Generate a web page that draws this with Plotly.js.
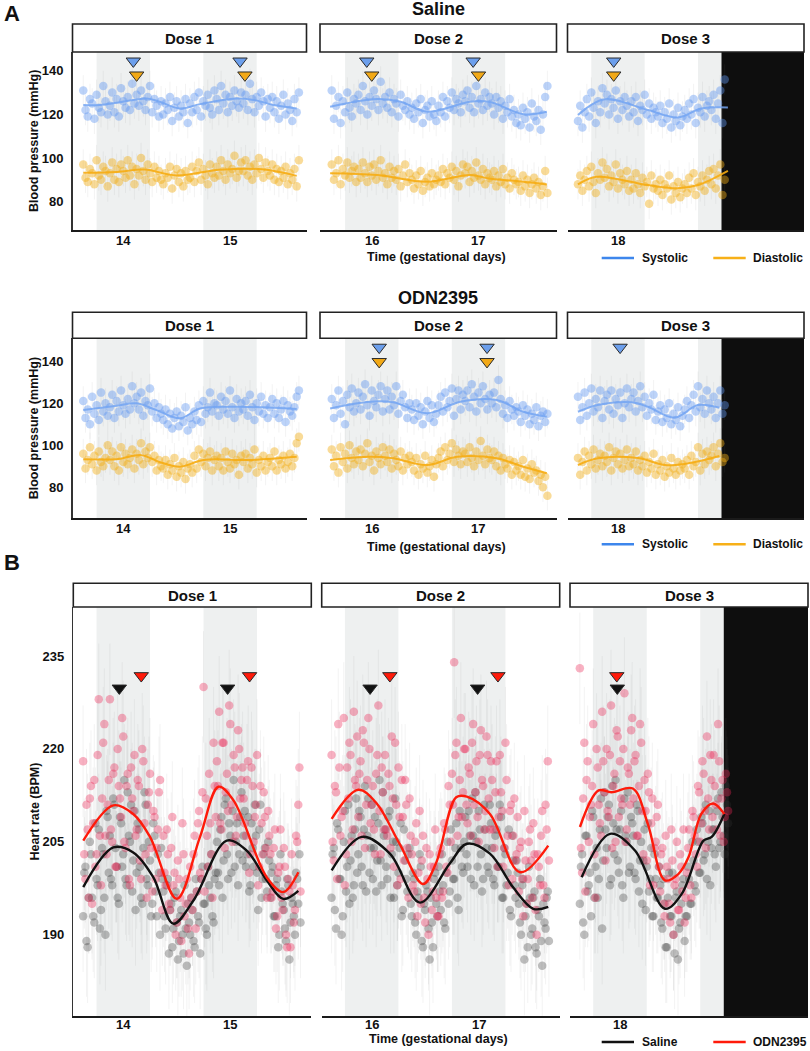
<!DOCTYPE html>
<html><head><meta charset="utf-8">
<script src="https://cdn.plot.ly/plotly-3.0.1.min.js"></script>
<style>html,body{margin:0;padding:0;background:#fff}#chart{width:810px;height:1051px}</style>
</head><body><div id="chart"></div>
<script>
// ---------------- DATA ----------------
// 30-min samples; first sample of each dose window (gestational days)
const facetStart = [13.625, 15.625, 17.625];
const sampleStep = 1 / 48;
const dayTicks = [[14, 15], [16, 17], [18]];
const bpTicks = [80, 100, 120, 140];
const hrTicks = [190, 205, 220, 235];
const darkPeriods = [[[13.75, 14.25], [14.75, 15.25]], [[15.75, 16.25], [16.75, 17.25]], [[17.75, 18.25], [18.75, 19.25]]];
const recordingEnd = 18.97;
const semBP = 7;
const semHR = 9;

// Saline blood pressure (mmHg)
const salSys1 = [131,122,119,127,125,118,129,123,121,133,126,120,124,130,121,127,119,132,126,123,128,122,134,125,129,124,131,126,122,128,133,121,127,124,119,126,120,125,122,128,117,123,126,119,124,121,127,116,125,121,128,122,130,119,126,124,129,123,120,131,127,122,133,125,129,121,128,124,131,126,123,130,125,129,122,134,127,121,128,124,130,126,119,127,123,128,121,126,118,124,129,120,125,122,117,127,121,130];
const salDia1 = [97,91,89,95,93,88,99,92,90,96,94,87,93,98,90,95,89,97,94,91,99,92,96,88,95,92,100,94,90,97,93,89,96,91,94,90,88,93,91,96,86,92,95,89,93,87,94,90,91,96,89,94,98,90,95,92,88,97,93,91,96,92,99,94,90,97,93,95,101,91,94,98,94,99,92,96,90,97,93,100,95,91,98,94,92,97,90,95,89,94,91,96,88,93,90,95,87,99];
const salSys2 = [131,118,124,128,116,126,121,130,123,119,127,125,129,122,133,126,120,128,124,131,127,122,135,125,128,123,130,121,127,125,119,129,124,122,126,120,123,118,125,121,127,116,122,124,119,126,120,117,124,121,128,119,126,123,130,122,127,125,121,129,126,131,123,128,121,133,125,127,122,130,124,128,125,120,128,123,126,118,124,121,127,119,122,116,120,115,123,118,121,114,125,119,117,122,113,120,128,133];
const salDia2 = [97,90,93,99,88,95,92,98,91,94,96,89,95,91,98,93,89,96,92,97,90,94,99,91,93,88,96,91,94,90,95,87,92,97,89,93,90,86,92,88,94,85,89,91,87,93,88,90,92,89,95,88,93,91,96,90,94,87,92,97,93,96,89,94,91,98,92,90,95,88,93,91,90,94,87,92,89,95,88,91,86,93,90,88,89,85,92,87,90,84,88,91,86,89,83,87,94,84];
const salSys3 = [117,124,114,121,127,119,130,123,116,126,121,132,125,129,120,127,123,131,118,126,122,128,124,119,126,121,128,117,124,122,129,120,125,118,123,121,119,124,116,121,118,125,114,120,117,123,115,119,122,118,125,120,127,116,123,121,128,119,124,126,122,129,118,125,131,116,136];
const salDia3 = [88,92,85,90,94,87,96,89,84,93,90,98,91,95,87,92,89,97,86,93,90,88,94,85,90,86,93,88,84,91,87,89,79,92,86,88,85,90,83,88,86,92,81,87,84,89,82,86,88,84,91,86,93,83,89,87,92,85,90,94,88,95,86,92,97,83,90];

// ODN2395 blood pressure (mmHg)
const odnSys1 = [121,113,117,110,123,115,119,112,125,116,120,114,118,124,113,121,116,126,119,115,122,117,128,120,123,117,125,114,121,119,127,116,120,113,118,115,112,117,110,115,108,113,116,109,114,111,118,107,113,110,116,112,119,111,121,115,118,125,116,120,119,114,123,117,121,115,126,118,113,122,116,120,117,121,114,124,118,112,120,116,123,115,119,113,118,122,115,120,113,117,121,111,119,116,114,118,123,126];
const odnDia1 = [96,89,93,99,91,95,88,97,92,90,94,100,93,97,90,95,88,99,92,96,91,94,98,89,96,93,101,91,97,94,99,92,95,88,93,90,89,93,86,91,88,94,85,90,87,92,84,89,91,87,95,89,98,92,96,90,94,97,88,93,95,90,94,88,97,92,89,96,91,93,86,95,92,96,89,94,91,98,87,93,90,95,88,92,94,90,97,88,93,91,95,89,92,96,90,94,101,104];
const odnSys2 = [122,113,119,126,115,121,110,124,118,127,116,120,125,117,123,129,119,114,126,121,118,124,128,116,122,126,117,123,119,128,115,121,124,118,113,120,117,112,120,114,118,110,116,121,113,119,111,115,119,123,116,125,118,121,127,114,122,126,117,124,121,126,118,129,123,116,125,120,128,122,117,124,120,125,118,131,122,115,119,113,121,117,114,118,116,111,119,114,117,110,115,112,118,109,114,116,111,115];
const odnDia2 = [98,90,95,87,99,92,96,89,100,94,91,97,93,98,90,96,101,92,95,88,97,94,91,99,95,92,98,89,96,93,90,97,88,94,91,95,92,88,94,86,91,89,95,87,90,93,85,91,94,97,90,99,93,96,101,92,98,95,91,97,96,92,99,94,90,97,93,102,95,91,98,94,93,97,90,95,88,94,91,89,93,86,92,88,90,86,93,85,89,84,91,87,88,83,86,80,85,76];
const odnSys3 = [123,112,118,125,114,120,127,116,122,118,126,113,121,124,117,126,115,122,119,125,113,120,127,118,122,125,116,121,128,118,123,114,120,117,124,112,116,119,111,117,113,120,110,115,112,118,109,114,117,121,113,119,124,116,128,118,122,115,126,120,117,123,113,120,126,115,119];
const odnDia3 = [94,86,92,97,88,95,91,98,89,93,96,90,95,92,99,88,94,97,91,96,89,93,98,90,94,91,97,88,93,90,95,87,92,89,96,86,91,88,93,85,90,87,94,89,86,92,88,91,89,93,86,95,90,92,99,88,96,91,97,93,95,99,90,96,101,92,94];

// Heart rate (BPM), on the hour/half hour
const hrSal1 = [193,201,188,205,196,192,199,207,194,203,190,209,206,198,211,201,195,208,203,199,213,205,197,210,200,207,196,204,211,198,202,195,206,193,200,204,197,191,199,194,188,196,192,189,194,187,191,195,190,194,188,197,192,199,195,191,201,196,193,199,205,198,209,202,212,199,206,210,201,208,203,213,206,201,209,198,204,211,200,207,196,203,199,205,196,201,193,199,190,197,194,189,198,192,195,190,199,203];
const hrOdn1 = [218,199,207,212,195,215,203,228,198,221,206,211,228,205,217,201,214,209,222,204,216,198,212,219,207,214,199,218,203,211,216,197,209,204,213,200,206,198,203,194,209,200,192,199,189,203,195,191,201,194,206,197,210,199,230,212,201,208,196,214,218,226,207,221,213,210,224,205,217,209,220,215,212,206,218,203,214,209,219,201,208,213,204,210,203,197,207,193,201,196,204,190,199,188,198,194,205,217];
const hrSal2 = [196,204,191,207,199,193,210,201,195,206,198,212,203,209,198,214,206,200,211,204,197,208,202,213,207,199,210,203,196,205,200,208,194,202,197,204,193,199,190,196,201,188,194,197,186,192,199,195,201,194,198,191,205,197,202,199,208,194,204,200,209,201,206,212,198,205,210,203,199,207,201,211,204,198,207,201,209,196,203,200,194,206,198,202,195,190,199,193,188,196,191,197,187,193,189,195,191,197];
const hrOdn2 = [219,202,213,224,206,210,198,217,221,205,226,214,209,218,223,204,215,220,211,207,216,227,203,213,219,206,214,222,201,211,217,199,209,215,204,212,203,197,208,200,195,206,192,199,203,194,201,196,193,204,197,207,200,211,216,234,221,209,225,213,220,208,216,221,211,218,205,223,214,210,219,207,215,204,218,209,213,201,221,206,210,199,212,203,197,205,193,202,199,207,196,203,190,201,206,198,211,218];
const hrSal3 = [195,203,190,206,198,193,209,201,196,207,191,213,204,211,199,208,215,202,207,198,212,205,200,209,206,199,210,202,195,207,201,197,204,193,199,196,198,191,195,188,200,193,190,196,186,192,198,189,193,199,195,202,197,205,200,208,203,199,210,204,207,201,212,205,209,203,211];
const hrOdn3 = [233,200,221,215,205,211,224,196,217,208,226,213,220,209,227,214,205,222,218,211,229,207,216,223,212,219,206,224,210,215,202,213,208,198,205,211,197,204,193,201,195,207,190,199,194,203,197,192,200,207,196,209,203,214,205,218,210,222,207,215,219,211,224,206,215,209,213];
// Heart rate (BPM), quarter past / quarter to
const hrSal1b = [200,189,196,203,193,208,198,191,204,196,210,200,199,212,204,196,209,201,215,198,206,211,202,194,208,201,195,213,199,205,193,208,197,203,190,199,193,198,187,195,191,197,186,193,190,198,185,192,196,189,199,193,187,201,195,190,198,203,192,200,200,207,196,211,203,208,200,215,205,198,209,202,210,203,197,208,201,206,194,211,199,204,197,202,200,193,198,188,203,195,191,199,186,196,193,200,195,192];
const hrOdn1b = [203,211,196,214,208,201,219,206,212,224,203,215,207,216,201,220,212,225,205,214,199,217,210,206,215,202,220,208,196,213,204,210,199,207,215,194,200,207,195,204,198,190,202,196,208,193,199,187,196,203,191,208,200,213,197,206,216,203,221,209,214,208,221,204,216,227,211,219,206,223,212,217,208,215,200,217,205,211,198,214,203,209,196,206,196,204,191,200,207,194,201,188,197,203,192,206,211,197];
const hrSal2b = [203,194,208,199,190,205,197,211,202,196,207,200,210,201,207,197,212,204,199,209,202,215,198,206,201,209,196,205,212,198,204,193,207,199,203,195,200,192,197,203,189,195,198,191,196,188,200,193,197,203,192,200,195,207,199,204,196,210,201,205,203,210,199,206,213,201,207,197,211,204,200,208,199,206,201,211,196,204,198,207,193,202,196,200,192,198,186,195,201,190,196,188,194,199,185,192,196,189];
const hrOdn2b = [205,214,199,217,209,225,203,212,219,207,215,222,216,206,221,211,225,208,214,203,219,210,217,207,207,216,204,212,221,198,209,215,202,211,196,206,198,205,193,210,202,196,204,190,201,197,207,193,203,196,208,201,214,205,211,219,206,215,209,220,211,217,206,224,213,209,219,215,207,222,212,218,207,213,201,219,210,204,215,198,211,206,202,209,204,199,210,195,205,202,208,194,203,198,210,196,207,202];
const hrSal3b = [201,192,206,197,200,210,196,204,199,212,202,207,209,198,214,203,207,200,210,196,206,213,201,208,200,211,197,205,202,194,208,199,193,203,196,201,192,199,188,196,193,200,187,197,191,195,199,193,201,195,205,198,207,200,209,202,211,205,198,207,203,210,204,213,206,214,208];
const hrOdn3b = [204,212,197,218,209,214,203,220,211,206,218,202,210,219,204,216,223,209,212,220,205,217,211,225,218,206,214,221,203,210,216,198,212,204,209,201,203,195,206,199,192,202,198,205,194,201,207,196,204,198,210,206,201,213,208,216,204,212,219,209,214,207,218,212,205,216,210];

// Smoothed (loess) fits: time and value
const salSysFitX = [[13.625,13.78,13.94,14.22,14.34,14.53,14.72,15.03,15.22,15.41,15.625],[15.61,16.05,16.27,16.52,16.92,17.1,17.42,17.64],[17.625,17.875,18.28,18.56,18.78,19.03]];
const salSysFitY = [[124.3,124.3,125.3,127.3,125.8,122.7,124.7,127.2,126.6,124.3,122.7],[123.5,127,125.8,121.2,125.8,125.8,120.1,121.2],[119.7,126.9,122,118.6,122.7,123.2]];
const salDiaFitX = [[13.625,13.94,14.2,14.5,14.9,15.3,15.625],[15.61,16.05,16.52,16.92,17.1,17.42,17.64],[17.625,17.8,18.28,18.56,18.75,19.03]];
const salDiaFitY = [[93.2,93.6,94.7,92,94.6,94.8,91.8],[93,92.2,89.1,92.2,90.6,89.1,87.9],[87.9,91.4,87.6,86.1,87.6,94.1]];
const odnSysFitX = [[13.625,13.94,14.125,14.31,14.53,14.72,15.03,15.625],[15.61,15.985,16.2,16.52,16.83,17.17,17.42,17.64],[17.625,17.81,18.125,18.28,18.53,18.75,18.95]];
const odnSysFitY = [[116.7,118.8,119.9,116.7,112.8,117.5,118.3,117.2],[117.5,120.7,120.4,115.2,120.7,121.5,115.9,113.5],[115.9,119.1,120.4,118.3,113.1,119.1,117.8]];
const odnDiaFitX = [[13.625,13.94,14.17,14.33,14.53,14.75,15.2,15.625],[15.61,15.985,16.2,16.52,16.8,17.17,17.42,17.64],[17.625,17.81,18.19,18.44,18.66,18.95]];
const odnDiaFitY = [[93.4,93.4,95.3,92.2,89.8,93,93,94.5],[93,94.5,93.8,90.6,94.5,93.8,89.8,86.7],[90.6,93.8,93.9,90.6,91.4,94.9]];
const hrSalFitX = [[13.626,13.907,14.093,14.28,14.467,14.654,14.966,15.153,15.34,15.495,15.636],[15.626,15.907,16.17,16.45,16.73,16.89,17.105,17.32,17.51,17.65],[17.642,17.907,18.14,18.42,18.577,18.78,18.857,18.975]];
const hrSalFitY = [[197.7,204.1,203.3,199.3,191.8,195.5,205.2,203.6,198.8,195.8,197.1],[200.4,205.8,203.1,195.2,201.5,204.7,203.1,197.7,194.2,194.5],[199.3,206.3,203.6,194.2,196.6,205.2,205.8,209.5]];
const hrOdnFitX = [[13.626,13.907,14.093,14.25,14.5,14.717,14.89,15.03,15.34,15.495,15.636],[15.626,15.875,16.047,16.26,16.48,16.6,16.79,16.89,17.105,17.386,17.65],[17.626,17.8,17.92,18.12,18.26,18.42,18.545,18.64,18.76,18.87,18.975]];
const hrOdnFitY = [[205.2,210.9,209.5,205.8,195.8,205.8,213.9,211.7,199.3,196.9,200.1],[208.7,213.4,211.2,204.7,198.2,201.5,212.2,212.3,209.5,200.1,204.4],[207.4,213.3,213,213.6,207.9,198.8,199.8,202.5,209.5,211.2,209.5]];

// Event markers (time, gestational days)
const salSysEvents = [[14.094, 15.094], [15.953, 16.95], [17.96]];
const salDiaEvents = [[14.125, 15.14], [16.0, 17.0], [17.96]];
const odnSysEvents = [[], [16.07, 17.08], [18.02]];
const odnDiaEvents = [[], [16.07, 17.08], []];
const hrSalEvents = [[13.963, 14.975], [15.985, 16.99], [17.975]];
const hrOdnEvents = [[14.168, 15.18], [16.17, 17.18], [17.97]];

const doseLabels = ['Dose 1', 'Dose 2', 'Dose 3'];

// ---------------- STYLE / LAYOUT ----------------
const W = 810, H = 1051;
const FONT = 'Liberation Sans, Arial, Helvetica, sans-serif';
const px = v => v / W;
const py = v => 1 - v / H;
const expected = [98, 98, 67];
function check(name, arrs) { arrs.forEach((a, i) => { if (a.length !== expected[i]) throw new Error(name + (i+1) + ' length ' + a.length); }); }
check('salSys', [salSys1, salSys2, salSys3]); check('salDia', [salDia1, salDia2, salDia3]);
check('odnSys', [odnSys1, odnSys2, odnSys3]); check('odnDia', [odnDia1, odnDia2, odnDia3]);
check('hrSal', [hrSal1, hrSal2, hrSal3]); check('hrOdn', [hrOdn1, hrOdn2, hrOdn3]);
check('hrSalb', [hrSal1b, hrSal2b, hrSal3b]); check('hrOdnb', [hrOdn1b, hrOdn2b, hrOdn3b]);

const C = {
  blue: {pts: 'rgba(95,150,240,0.42)', fit: 'rgba(115,165,242,0.85)', tri: '#6c9fec', key: '#3d86ec', fitW: 2, size: 8.5},
  orange: {pts: 'rgba(242,172,20,0.44)', fit: 'rgba(246,172,18,0.9)', tri: '#f2a917', key: '#f7b018', fitW: 2, size: 8.5},
  gray: {pts: 'rgba(50,50,50,0.31)', fit: '#111111', tri: '#111111', key: '#111111', fitW: 2.4, size: 8.5},
  red: {pts: 'rgba(236,40,85,0.36)', fit: '#ff1a0a', tri: '#ff1a0a', key: '#ff1a0a', fitW: 2.4, size: 8.5}
};

const panels = [
  { title: 'Saline', titleY: 9, xDom: [[72.5,306.5],[320,556.5],[567.5,804]],
    xRng: [[13.524,15.717],[15.515,17.731],[17.527,19.743]],
    plotY: [52, 230], stripY: [24, 52], yRng: [67, 148.6], yTicks: bpTicks, sem: semBP,
    yTitle: 'Blood pressure (mmHg)', tickY: 240, xTitleY: 257, legendY: 258, legendText: ['Systolic','Diastolic'],
    series: [
      {pts: [salSys1, salSys2, salSys3], ptsB: [[], [], []], fx: salSysFitX, fy: salSysFitY, col: C.blue, ev: salSysEvents, evY: 144.4},
      {pts: [salDia1, salDia2, salDia3], ptsB: [[], [], []], fx: salDiaFitX, fy: salDiaFitY, col: C.orange, ev: salDiaEvents, evY: 138}
    ]},
  { title: 'ODN2395', titleY: 298.3, xDom: [[72.5,306.5],[320,556.5],[567.5,804]],
    xRng: [[13.524,15.717],[15.515,17.731],[17.527,19.743]],
    plotY: [338.3, 518.3], stripY: [312.3, 338.3], yRng: [65.3, 150.8], yTicks: bpTicks, sem: semBP,
    yTitle: 'Blood pressure (mmHg)', tickY: 528.3, xTitleY: 546.7, legendY: 544.3, legendText: ['Systolic','Diastolic'],
    series: [
      {pts: [odnSys1, odnSys2, odnSys3], ptsB: [[], [], []], fx: odnSysFitX, fy: odnSysFitY, col: C.blue, ev: odnSysEvents, evY: 146.5},
      {pts: [odnDia1, odnDia2, odnDia3], ptsB: [[], [], []], fx: odnDiaFitX, fy: odnDiaFitY, col: C.orange, ev: odnDiaEvents, evY: 139.7}
    ]},
  { title: null, xDom: [[73.3,311.3],[321.7,559.7],[570,808]],
    xRng: [[13.533,15.757],[15.533,17.757],[17.533,19.757]],
    plotY: [607, 1016], stripY: [583.3, 607], yRng: [176.9, 242.9], yTicks: hrTicks, sem: semHR,
    yTitle: 'Heart rate (BPM)', tickY: 1024, xTitleY: 1039, legendY: 1042, legendText: ['Saline','ODN2395'],
    series: [
      {pts: [hrSal1, hrSal2, hrSal3], ptsB: [hrSal1b, hrSal2b, hrSal3b], fx: hrSalFitX, fy: hrSalFitY, col: C.gray, ev: hrSalEvents, evY: 229.8},
      {pts: [hrOdn1, hrOdn2, hrOdn3], ptsB: [hrOdn1b, hrOdn2b, hrOdn3b], fx: hrOdnFitX, fy: hrOdnFitY, col: C.red, ev: hrOdnEvents, evY: 231.8}
    ]}
];

const data = [];
const layout = {
  width: W, height: H, margin: {l: 0, r: 0, t: 0, b: 0},
  paper_bgcolor: '#ffffff', plot_bgcolor: 'rgba(0,0,0,0)', showlegend: false,
  font: {family: FONT, color: '#111'}, shapes: [], annotations: []
};
function ann(text, x, y, size, extra) {
  layout.annotations.push(Object.assign({text: text, x: px(x), y: py(y), xref: 'paper', yref: 'paper',
    showarrow: false, xanchor: 'center', yanchor: 'middle',
    font: {family: FONT, size: size, color: '#111', weight: 'bold'}}, extra || {}));
}

let ax = 0;
panels.forEach((P) => {
  const midX = (P.xDom[0][0] + P.xDom[2][1]) / 2;
  for (let f = 0; f < 3; f++) {
    ax++;
    const xid = ax === 1 ? 'x' : 'x' + ax, yid = ax === 1 ? 'y' : 'y' + ax;
    const xname = ax === 1 ? 'xaxis' : 'xaxis' + ax, yname = ax === 1 ? 'yaxis' : 'yaxis' + ax;
    layout[xname] = {
      domain: [px(P.xDom[f][0]), px(P.xDom[f][1])], range: P.xRng[f], anchor: yid,
      tickvals: dayTicks[f], showticklabels: false, ticks: '', showgrid: false, zeroline: false,
      showline: true, linecolor: '#1a1a1a', linewidth: 1.5, fixedrange: true
    };
    layout[yname] = {
      domain: [py(P.plotY[1]), py(P.plotY[0])], range: P.yRng, anchor: xid,
      tickvals: P.yTicks, ticks: '', showgrid: false, zeroline: false,
      showticklabels: f === 0, showline: f === 0, linecolor: '#333', linewidth: 1.5, ticklabelstandoff: 5,
      tickfont: {family: FONT, size: 13, color: '#111', weight: 'bold'}, fixedrange: true
    };
    // x tick labels placed on the data axis
    dayTicks[f].forEach(t => layout.annotations.push({text: String(t), x: t, xref: xid, y: py(P.tickY), yref: 'paper',
      showarrow: false, xanchor: 'center', yanchor: 'middle', font: {family: FONT, size: 13, color: '#111', weight: 'bold'}}));
    // light/dark shading
    darkPeriods[f].forEach(d => layout.shapes.push({type: 'rect', xref: xid, yref: yid + ' domain',
      x0: d[0], x1: d[1], y0: 0, y1: 1, fillcolor: '#eef0f0', line: {width: 0}, layer: 'below'}));
    if (f === 2) layout.shapes.push({type: 'rect', xref: xid, yref: yid + ' domain',
      x0: recordingEnd, x1: P.xRng[2][1], y0: 0, y1: 1, fillcolor: '#0e0e0e', line: {width: 0}, layer: 'below'});
    // strip
    layout.shapes.push({type: 'rect', xref: 'paper', yref: 'paper', x0: px(P.xDom[f][0]), x1: px(P.xDom[f][1]),
      y0: py(P.stripY[1]), y1: py(P.stripY[0]), fillcolor: '#ffffff', line: {color: '#222', width: 1.6}});
    ann(doseLabels[f], (P.xDom[f][0] + P.xDom[f][1]) / 2, (P.stripY[0] + P.stripY[1]) / 2, 15);

    const times = (n, off) => Array.from({length: n}, (_, i) => facetStart[f] + off + i * sampleStep);
    // points
    P.series.forEach(S => {
      const ya = S.pts[f], yb = S.ptsB[f];
      data.push({type: 'scatter', mode: 'markers',
        x: times(ya.length, 0).concat(times(yb.length, sampleStep / 2)), y: ya.concat(yb), xaxis: xid, yaxis: yid,
        marker: {size: S.col.size, color: S.col.pts, line: {width: 0}},
        error_y: {type: 'constant', value: P.sem, color: 'rgba(120,120,120,0.13)', thickness: 0.7, width: 0},
        hoverinfo: 'skip', cliponaxis: true});
    });
    // fits
    P.series.forEach(S => {
      data.push({type: 'scatter', mode: 'lines', x: S.fx[f], y: S.fy[f], xaxis: xid, yaxis: yid,
        line: {color: S.col.fit, width: S.col.fitW, shape: 'spline', smoothing: 1}, hoverinfo: 'skip'});
    });
    // event triangles
    P.series.forEach(S => {
      const ev = S.ev[f];
      if (!ev.length) return;
      data.push({type: 'scatter', mode: 'markers', x: ev, y: ev.map(() => S.evY), xaxis: xid, yaxis: yid,
        marker: {symbol: 'triangle-down', size: 12.5, color: S.col.tri, line: {color: '#2a2a2a', width: 1}},
        hoverinfo: 'skip', cliponaxis: false});
    });
  }
  // titles
  if (P.title) ann(P.title, midX, P.titleY, 18);
  ann(P.yTitle, 34, (P.plotY[0] + P.plotY[1]) / 2, 12.5, {textangle: -90});
  ann('Time (gestational days)', midX - 2, P.xTitleY, 12.5);
  // legend
  const keys = [[601.7, 634, P.series[0].col.key, 640, P.legendText[0]], [713.3, 745.7, P.series[1].col.key, 751, P.legendText[1]]];
  keys.forEach(k => {
    layout.shapes.push({type: 'line', xref: 'paper', yref: 'paper', x0: px(k[0]), x1: px(k[1]), y0: py(P.legendY), y1: py(P.legendY),
      line: {color: k[2], width: 2.6}});
    ann(k[4], k[3], P.legendY, 12, {xanchor: 'left'});
  });
});
ann('A', 11.7, 13.5, 22);
ann('B', 11.5, 562, 22);

Plotly.newPlot('chart', data, layout, {staticPlot: true, displayModeBar: false});
</script>
</body></html>
